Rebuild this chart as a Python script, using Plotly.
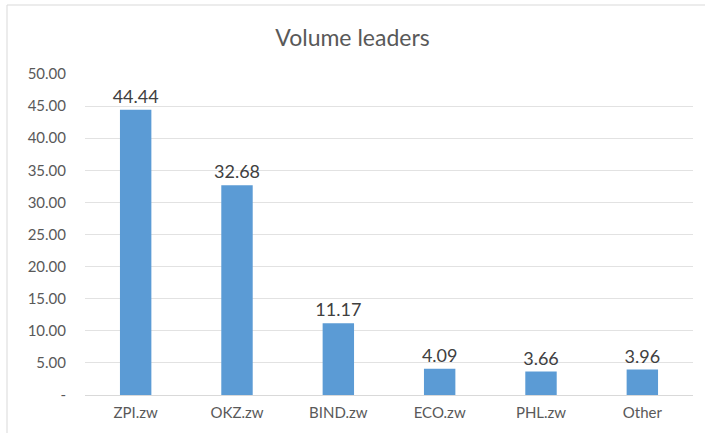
import plotly.graph_objects as go

categories = ["ZPI.zw", "OKZ.zw", "BIND.zw", "ECO.zw", "PHL.zw", "Other"]
values = [44.44, 32.68, 11.17, 4.09, 3.66, 3.96]
tick_vals = [0, 5, 10, 15, 20, 25, 30, 35, 40, 45, 50]
tick_text = ["-", "5.00", "10.00", "15.00", "20.00", "25.00", "30.00", "35.00", "40.00", "45.00", "50.00"]

FONT = "Lato, Open Sans, sans-serif"

fig = go.Figure(go.Bar(
    x=categories, y=values,
    marker=dict(color="#5B9BD5", line=dict(width=0)),
    text=[f"{v:.2f}" for v in values],
    textposition="outside",
    constraintext="none",
    textfont=dict(family=FONT, size=18, color="#404040"),
    cliponaxis=False,
    width=0.31,
))

L, R, T, B = 85, 12, 74, 38
W, H = 705, 433
pw, ph = W - L - R, H - T - B

fig.update_layout(
    width=W, height=H,
    margin=dict(l=L, r=R, t=T, b=B),
    paper_bgcolor="white", plot_bgcolor="white",
    title=dict(text="Volume leaders", x=0.5, xanchor="center", y=1 - 38 / H, yanchor="middle",
               font=dict(family=FONT, size=23, color="#595959")),
    showlegend=False,
    bargap=0.69,
    xaxis=dict(showline=True, linecolor="#D9D9D9", linewidth=1, ticks="",
               tickfont=dict(family=FONT, size=15, color="#595959"), fixedrange=True,
               ticklabelstandoff=4),
    yaxis=dict(range=[0, 50], tickvals=tick_vals, ticktext=tick_text,
               showgrid=True, gridcolor="#E2E2E2", gridwidth=1, zeroline=False,
               tickfont=dict(family=FONT, size=15, color="#595959"), ticks="", ticklen=0,
               showline=False, ticklabelstandoff=18, fixedrange=True),
    shapes=[dict(type="rect", xref="paper", yref="paper",
                 x0=(7 - L) / pw, x1=(706 - L) / pw,
                 y0=(H - B - 440) / ph, y1=(H - B - 5) / ph,
                 line=dict(color="#D9D9D9", width=1), fillcolor="rgba(0,0,0,0)", layer="below")],
)

fig.write_html("out.html", config={"displayModeBar": False},
               post_script="document.body.style.margin='0';document.body.style.overflow='hidden';")
